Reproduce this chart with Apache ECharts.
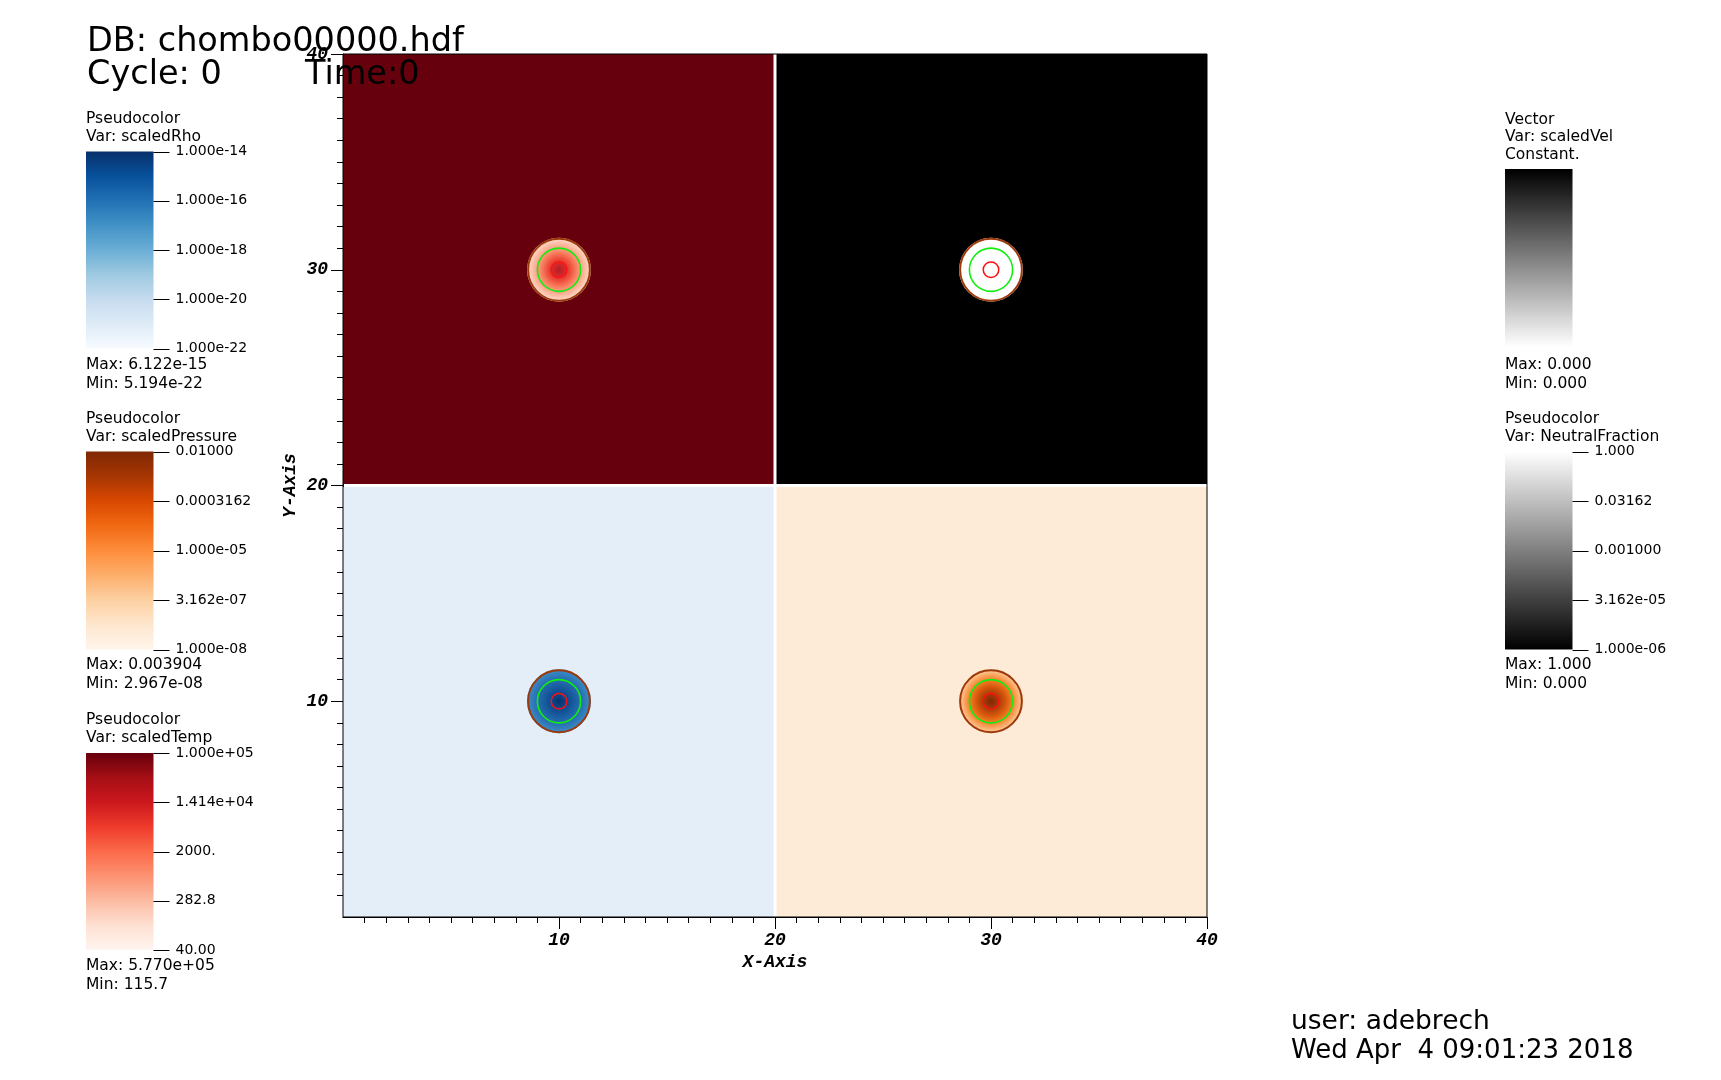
<!DOCTYPE html>
<html><head><meta charset="utf-8">
<script src="https://cdn.jsdelivr.net/npm/echarts@6/dist/echarts.min.js"></script>
<style>html,body{margin:0;padding:0;background:#fff}#chart{width:1721px;height:1080px}</style>
</head><body><div id="chart"></div>
<script>
// ---------------- data ----------------
const domainX = [0, 40];
const domainY = [0, 40];
const axisTickValues = [10, 20, 30, 40];

// the four patches (variable shown in each)
const panelVars = ['scaledTemp', 'NeutralFraction', 'scaledRho', 'scaledPressure'];
const panelX0 = [0, 20, 0, 20];
const panelX1 = [20, 40, 20, 40];
const panelY0 = [20, 20, 0, 0];
const panelY1 = [40, 40, 20, 20];

// the source sphere in each patch
const sourceX = [10, 30, 10, 30];
const sourceY = [30, 30, 10, 10];
const sourceR = [1.48, 1.48, 1.48, 1.48];

// contour circles (radius in axis units)
const contourNames = ['inner', 'middle', 'outer'];
const contourR = [0.36, 1.0, 1.43];

// colour-bar legends
const rhoTicks = ['1.000e-22', '1.000e-20', '1.000e-18', '1.000e-16', '1.000e-14'];
const pressureTicks = ['1.000e-08', '3.162e-07', '1.000e-05', '0.0003162', '0.01000'];
const tempTicks = ['40.00', '282.8', '2000.', '1.414e+04', '1.000e+05'];
const neutralTicks = ['1.000e-06', '3.162e-05', '0.001000', '0.03162', '1.000'];
const velTicks = [];

const legendTitles = [
  ['Pseudocolor', 'Var: scaledRho'],
  ['Pseudocolor', 'Var: scaledPressure'],
  ['Pseudocolor', 'Var: scaledTemp'],
  ['Vector', 'Var: scaledVel', 'Constant.'],
  ['Pseudocolor', 'Var: NeutralFraction']
];
const legendMax = ['Max: 6.122e-15', 'Max: 0.003904', 'Max: 5.770e+05', 'Max: 0.000', 'Max: 1.000'];
const legendMin = ['Min: 5.194e-22', 'Min: 2.967e-08', 'Min: 115.7', 'Min: 0.000', 'Min: 0.000'];
const legendTicks = [rhoTicks, pressureTicks, tempTicks, velTicks, neutralTicks];

const headerLines = ['DB: chombo00000.hdf', 'Cycle: 0', 'Time:0'];
const footerLines = ['user: adebrech', 'Wed Apr  4 09:01:23 2018'];

// ---------------- styles ----------------
const panelColors = ['#67000d', '#000000', '#e3eef9', '#fdebd7'];
const diskStops = [
  [[0, '#b71c24'], [0.18, '#cf2a2c'], [0.35, '#ee4b3b'], [0.55, '#f9805f'], [0.75, '#fcae93'], [0.93, '#fdd2c0'], [1, '#fde0d4']],
  [[0, '#ffffff'], [1, '#ffffff']],
  [[0, '#08306b'], [0.25, '#0c4a8e'], [0.5, '#1b5fa3'], [0.75, '#2b73b5'], [0.93, '#3887c3'], [1, '#4593cc']],
  [[0, '#7f2704'], [0.22, '#a23a08'], [0.45, '#d5560b'], [0.65, '#f07c22'], [0.82, '#fca35d'], [1, '#fdd3a6']]
];
const contourColors = ['#ff1010', '#10ee10', '#9c3a0c'];
const contourWidths = [1.5, 1.6, 2];

const barStops = [
  [[0, '#08306b'], [0.125, '#08519c'], [0.25, '#2171b5'], [0.375, '#4292c6'], [0.5, '#6baed6'], [0.625, '#9ecae1'], [0.75, '#c6dbef'], [0.875, '#deebf7'], [1, '#f7fbff']],
  [[0, '#7f2704'], [0.125, '#a63603'], [0.25, '#d94801'], [0.375, '#f16913'], [0.5, '#fd8d3c'], [0.625, '#fdae6b'], [0.75, '#fdd0a2'], [0.875, '#fee6ce'], [1, '#fff5eb']],
  [[0, '#67000d'], [0.125, '#a50f15'], [0.25, '#cb181d'], [0.375, '#ef3b2c'], [0.5, '#fb6a4a'], [0.625, '#fc9272'], [0.75, '#fcbba1'], [0.875, '#fee0d2'], [1, '#fff5f0']],
  [[0, '#000000'], [1, '#ffffff']],
  [[0, '#ffffff'], [1, '#000000']]
];
// bar boxes [left, top, width, height] in pixels
const barBoxes = [
  [86, 151.5, 67.5, 197],
  [86, 451.5, 67.5, 198],
  [86, 753, 67.5, 197],
  [1505, 169, 67.5, 178],
  [1505, 451.5, 67.5, 198]
];
const legendTextX = [86, 86, 86, 1505, 1505];
const legendTitleY = [119, 419, 720, 119.5, 419];
const legendLineGap = 17.5;
const legendMaxY = [365, 665, 966, 365, 665];

const FONT = 'DejaVu Sans';
const AXFONT = 'Liberation Mono';

// ---------------- build ----------------
const chart = echarts.init(document.getElementById('chart'), null, {renderer: 'canvas'});

const axisLabelStyle = {color: '#000', fontFamily: AXFONT, fontWeight: 'bold', fontStyle: 'italic', fontSize: 18};

const grids = [{left: 343, top: 54, width: 864, height: 863, outerBoundsMode: 'none'}];
const xAxes = [{
  gridIndex: 0, type: 'value', min: domainX[0], max: domainX[1], interval: 10,
  axisLine: {show: true, onZero: false, lineStyle: {color: '#000', width: 1}},
  axisTick: {show: true, length: 12, customValues: axisTickValues, lineStyle: {color: '#000', width: 1}},
  minorTick: {show: true, splitNumber: 10, length: 6, lineStyle: {color: '#000', width: 1}},
  splitLine: {show: false},
  axisLabel: Object.assign({margin: 14, customValues: axisTickValues}, axisLabelStyle),
  name: 'X-Axis', nameLocation: 'middle', nameGap: 36, nameMoveOverlap: false,
  nameTextStyle: Object.assign({}, axisLabelStyle)
}];
const yAxes = [{
  gridIndex: 0, type: 'value', min: domainY[0], max: domainY[1], interval: 10,
  axisLine: {show: true, onZero: false, lineStyle: {color: '#000', width: 1}},
  axisTick: {show: true, length: 12, customValues: axisTickValues, lineStyle: {color: '#000', width: 1}},
  minorTick: {show: true, splitNumber: 10, length: 6, lineStyle: {color: '#000', width: 1}},
  splitLine: {show: false},
  axisLabel: Object.assign({margin: 15, customValues: axisTickValues}, axisLabelStyle),
  name: 'Y-Axis', nameLocation: 'middle', nameGap: 44, nameRotate: 90, nameMoveOverlap: false,
  nameTextStyle: Object.assign({}, axisLabelStyle)
}];

const series = [];

// patches
series.push({
  type: 'custom', xAxisIndex: 0, yAxisIndex: 0, z: 1, silent: true,
  data: panelVars.map((v, i) => [panelX0[i], panelX1[i], panelY0[i], panelY1[i], i]),
  renderItem: function (params, api) {
    const x0 = api.value(0), x1 = api.value(1), y0 = api.value(2), y1 = api.value(3), i = api.value(4);
    const a = api.coord([x0, y1]), b = api.coord([x1, y0]);
    let L = a[0], T = a[1], R = b[0], B = b[1];
    const g = 1.5;
    if (x0 > domainX[0]) L += g;
    if (x1 < domainX[1]) R -= g;
    if (y1 < domainY[1]) T += g;
    if (y0 > domainY[0]) B -= g;
    return {type: 'rect', shape: {x: L, y: T, width: R - L, height: B - T}, style: {fill: panelColors[i]}};
  }
});

// source disks
series.push({
  type: 'custom', xAxisIndex: 0, yAxisIndex: 0, z: 2, silent: true,
  data: sourceX.map((x, i) => [x, sourceY[i], sourceR[i], i]),
  renderItem: function (params, api) {
    const c = api.coord([api.value(0), api.value(1)]);
    const r = api.size([api.value(2), 0])[0];
    const i = api.value(3);
    return {
      type: 'circle', shape: {cx: c[0], cy: c[1], r: r},
      style: {fill: {type: 'radial', x: 0.5, y: 0.5, r: 0.5, global: false,
        colorStops: diskStops[i].map(s => ({offset: s[0], color: s[1]}))}}
    };
  }
});

// contours
const contourData = [];
sourceX.forEach((x, i) => contourR.forEach((r, j) => contourData.push([x, sourceY[i], r, j])));
series.push({
  type: 'custom', xAxisIndex: 0, yAxisIndex: 0, z: 3, silent: true,
  data: contourData,
  renderItem: function (params, api) {
    const c = api.coord([api.value(0), api.value(1)]);
    const r = api.size([api.value(2), 0])[0];
    const j = api.value(3);
    return {type: 'circle', shape: {cx: c[0], cy: c[1], r: r},
      style: {fill: 'none', stroke: contourColors[j], lineWidth: contourWidths[j]}};
  }
});

// frame
series.push({
  type: 'custom', xAxisIndex: 0, yAxisIndex: 0, z: 4, silent: true,
  data: [[domainX[0], domainY[0]]],
  renderItem: function (params, api) {
    const a = api.coord([domainX[0], domainY[1]]), b = api.coord([domainX[1], domainY[0]]);
    return {type: 'rect', shape: {x: a[0], y: a[1], width: b[0] - a[0], height: b[1] - a[1]},
      style: {fill: 'none', stroke: '#000', lineWidth: 1}};
  }
});

// colour bars
const barTickLen = 16;
barBoxes.forEach((box, k) => {
  const gi = k + 1;
  const ticks = legendTicks[k];
  grids.push({left: box[0], top: box[1], width: box[2], height: box[3], outerBoundsMode: 'none'});
  xAxes.push({gridIndex: gi, type: 'value', min: 0, max: 1, show: false});
  yAxes.push({
    gridIndex: gi, type: 'value', min: 0, max: 4, interval: 1, position: 'right',
    show: ticks.length > 0,
    axisLine: {show: false},
    axisTick: {show: false},
    splitLine: {show: false},
    axisLabel: {show: true, margin: 22, color: '#000', fontFamily: FONT, fontSize: 14,
      showMinLabel: true, showMaxLabel: true, hideOverlap: false,
      formatter: function (v) { return ticks[Math.round(v)] || ''; }}
  });
  series.push({
    type: 'custom', xAxisIndex: gi, yAxisIndex: gi, z: 2, silent: true,
    data: [[0, 0]],
    renderItem: function (params, api) {
      const a = api.coord([0, 4]), b = api.coord([1, 0]);
      const children = [{type: 'rect', shape: {x: a[0], y: a[1], width: b[0] - a[0], height: b[1] - a[1]},
        style: {fill: {type: 'linear', x: 0, y: 0, x2: 0, y2: 1, global: false,
          colorStops: barStops[k].map(s => ({offset: s[0], color: s[1]}))}}}];
      ticks.forEach((t, v) => {
        const p = api.coord([1, v]);
        const yy = Math.round(p[1]) + 0.5;
        children.push({type: 'line', shape: {x1: p[0], y1: yy, x2: p[0] + barTickLen, y2: yy},
          style: {stroke: '#000', lineWidth: 1}});
      });
      return {type: 'group', children: children};
    }
  });
});

// annotation texts
function txt(x, y, text, size) {
  return {type: 'text', x: x, y: y, z: 100, silent: true,
    style: {text: text, fill: '#000', font: size + 'px "' + FONT + '"', align: 'left', verticalAlign: 'middle'}};
}
const graphics = [];
graphics.push(txt(87, 42, headerLines[0], 33.5));
graphics.push(txt(87, 75, headerLines[1], 33.5));
graphics.push(txt(305, 75, headerLines[2], 33.5));
legendTitles.forEach((lines, k) => {
  lines.forEach((l, n) => graphics.push(txt(legendTextX[k], legendTitleY[k] + n * legendLineGap, l, 15.5)));
  graphics.push(txt(legendTextX[k], legendMaxY[k], legendMax[k], 15.5));
  graphics.push(txt(legendTextX[k], legendMaxY[k] + 18.5, legendMin[k], 15.5));
});
graphics.push(txt(1291, 1022, footerLines[0], 26.5));
graphics.push(txt(1291, 1051, footerLines[1], 26));

chart.setOption({
  backgroundColor: '#ffffff',
  animation: false,
  grid: grids,
  xAxis: xAxes,
  yAxis: yAxes,
  series: series,
  graphic: graphics
});
</script></body></html>
